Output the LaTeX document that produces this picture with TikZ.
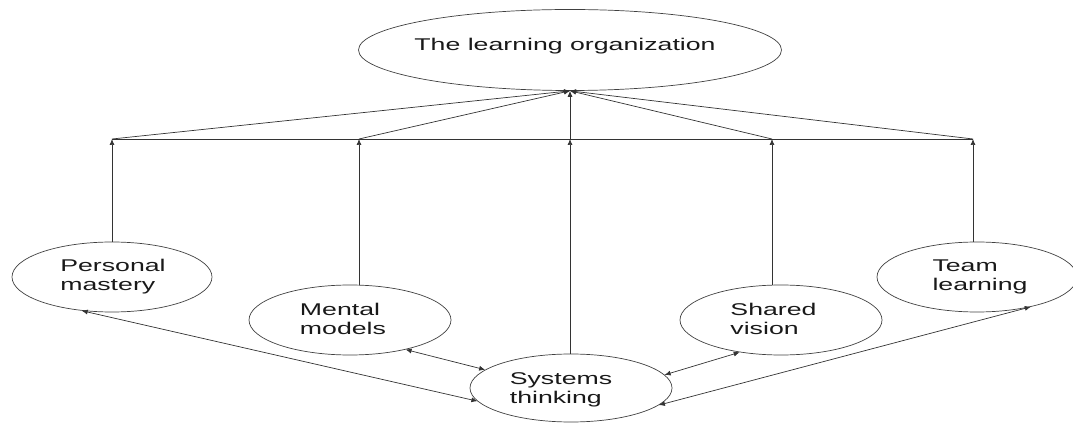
\documentclass[tikz,border=0pt]{standalone}
\usepackage{fontspec}
\newfontfamily\labfont[FakeStretch=1.57]{Liberation Sans}
\usetikzlibrary{shapes.geometric,arrows.meta}
\begin{document}
\begin{tikzpicture}[x=1pt,y=1pt,
  oval/.style={ellipse,draw=black!75,line width=0.7pt,inner sep=0pt},
  lab/.style={font=\labfont\fontsize{17}{19}\selectfont,align=left,inner sep=0pt,text=black!90},
  conn/.style={draw=black!80,line width=0.7pt},
  arr/.style={conn,-{Latex[length=6pt,width=5pt]}},
  biarr/.style={conn,{Latex[length=6pt,width=5pt]}-{Latex[length=6pt,width=5pt]}}]
\useasboundingbox (0,0) rectangle (1073,423);
% ellipses
\node[oval,minimum width=423pt,minimum height=81pt] (top) at (570,373) {};
\node[oval,minimum width=200pt,minimum height=70pt] (pm) at (112,146) {};
\node[oval,minimum width=202pt,minimum height=70pt] (mm) at (350,103) {};
\node[oval,minimum width=202pt,minimum height=68pt] (st) at (571,35) {};
\node[oval,minimum width=202pt,minimum height=70pt] (sv) at (781,103) {};
\node[oval,minimum width=200pt,minimum height=70pt] (tl) at (977,146) {};
% texts
\node[lab] (topt) at (565,377) {The learning organization};
\node[lab] (pmt) at (113,146) {Personal\\mastery};
\node[lab] (mmt) at (343,104.5) {Mental\\models};
\node[lab] (stt) at (561,33.4) {Systems\\thinking};
\node[lab] (svt) at (773.5,104.5) {Shared\\vision};
\node[lab] (tlt) at (980,146) {Team\\learning};
% junctions on the horizontal line
\coordinate (j1) at (112,284);
\coordinate (j2) at (359,284);
\coordinate (j3) at (570,284);
\coordinate (j4) at (772,284);
\coordinate (j5) at (973,284);
\draw[conn] (j1) -- (j5);
% vertical arrows
\draw[arr] (pm.north) -- (j1);
\draw[arr] (j2 |- mm.north) -- (j2);
\draw[arr] (j3 |- st.north) -- (j3);
\draw[arr] (j4 |- sv.north) -- (j4);
\draw[arr] (j5 |- tl.north) -- (j5);
% converging arrows
\foreach \j in {j1,j2,j3,j4,j5} \draw[arr] (\j) -- (top.south);
% two-way arrows
\draw[biarr] (pm.228) -- (st.188);
\draw[biarr] (mm.332) -- (st.168);
\draw[biarr] (sv.218) -- (st.8);
\draw[biarr] (tl.331) -- (st.349);
\end{tikzpicture}
\end{document}
